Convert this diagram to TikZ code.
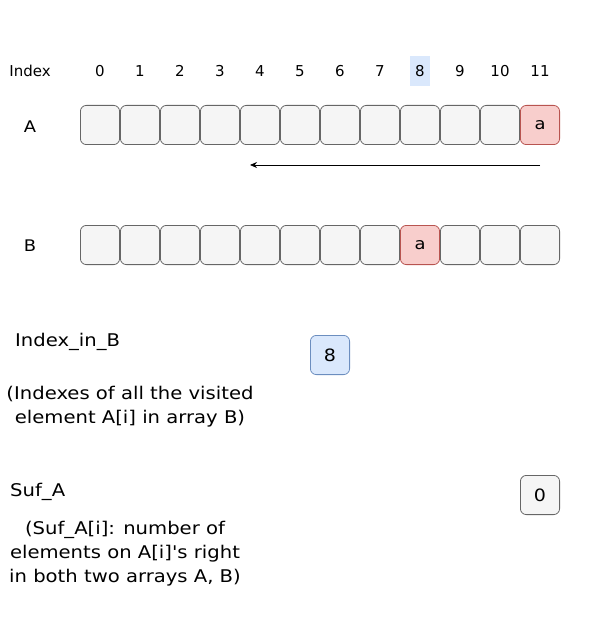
\documentclass[tikz,border=0pt]{standalone}
\usepackage{fontspec}
\setmainfont{DejaVu Sans}
\newfontfamily\notefont[FakeStretch=1.12]{DejaVu Sans}
\usetikzlibrary{arrows.meta,backgrounds}
\definecolor{cellfill}{HTML}{F5F5F5}
\definecolor{cellline}{HTML}{666666}
\definecolor{hitfill}{HTML}{F8CECC}
\definecolor{hitline}{HTML}{B85450}
\definecolor{markfill}{HTML}{DAE8FC}
\definecolor{markline}{HTML}{6C8EBF}
\tikzset{
  cell/.style={draw=cellline,fill=cellfill,rounded corners=6pt,line width=0.8pt,
    minimum size=39.2pt,inner sep=0pt,font=\notefont\fontsize{16}{18}\selectfont},
  hitcell/.style={cell,draw=hitline,fill=hitfill},
  markcell/.style={cell,draw=markline,fill=markfill,font=\notefont\fontsize{17}{18}\selectfont},
  note/.style={align=center,inner sep=0pt,font=\notefont\fontsize{17.5}{24}\selectfont},
}
\begin{document}
\begin{tikzpicture}[x=1pt,y=-1pt]
\useasboundingbox (0,0) rectangle (601,636);
\node[font=\fontsize{15}{17}\selectfont] (idxlabel) at (30,71) {Index};
\matrix (idx) at (320,71) [nodes={minimum width=40pt,inner sep=0pt,outer sep=0pt,font=\fontsize{15}{17}\selectfont}] {
  \node (i0) {0};
 &\node (i1) {1};
 &\node (i2) {2};
 &\node (i3) {3};
 &\node (i4) {4};
 &\node (i5) {5};
 &\node (i6) {6};
 &\node (i7) {7};
 &\node (i8) {8};
 &\node (i9) {9};
 &\node (i10) {10};
 &\node (i11) {11};\\
};
\begin{scope}[on background layer]
\node[fill=markfill,minimum width=20pt,minimum height=30pt] (i8mark) at (i8) {};
\end{scope}
% array A
\node[font=\notefont\fontsize{16}{18}\selectfont] (labA) at (30,127) {A};
\matrix (rowA) at (320,125) [nodes={cell}] {
  \node (A0) {};
 &\node (A1) {};
 &\node (A2) {};
 &\node (A3) {};
 &\node (A4) {};
 &\node (A5) {};
 &\node (A6) {};
 &\node (A7) {};
 &\node (A8) {};
 &\node (A9) {};
 &\node (A10) {};
 &\node[hitcell] (A11) {a};\\
};
\coordinate (scanstart) at (540,165);
\coordinate (scanend) at (250,165);
\draw[line width=0.8pt,-{Stealth[length=7pt,width=6pt]}] (scanstart) -- (scanend);
% array B
\node[font=\notefont\fontsize{16}{18}\selectfont] (labB) at (30,246) {B};
\matrix (rowB) at (320,245) [nodes={cell}] {
  \node (B0) {};
 &\node (B1) {};
 &\node (B2) {};
 &\node (B3) {};
 &\node (B4) {};
 &\node (B5) {};
 &\node (B6) {};
 &\node (B7) {};
 &\node[hitcell] (B8) {a};
 &\node (B9) {};
 &\node (B10) {};
 &\node (B11) {};\\
};
% Index_in_B
\node[note,anchor=west] (inBlabel) at (15,342) {Index\_in\_B};
\node[markcell] (inBval) at (330,355) {8};
\node[note] (inBnote) at (130,407) {(Indexes of all the visited\\element A[i] in array B)};
% Suf_A
\node[note,anchor=west] (suflabel) at (10,492) {Suf\_A};
\node[cell,font=\notefont\fontsize{17}{18}\selectfont] (sufval) at (540,495) {0};
\node[note] (sufnote) at (125,554) {(Suf\_A[i]: number of\\elements on A[i]'s right\\in both two arrays A, B)};
\end{tikzpicture}
\end{document}
